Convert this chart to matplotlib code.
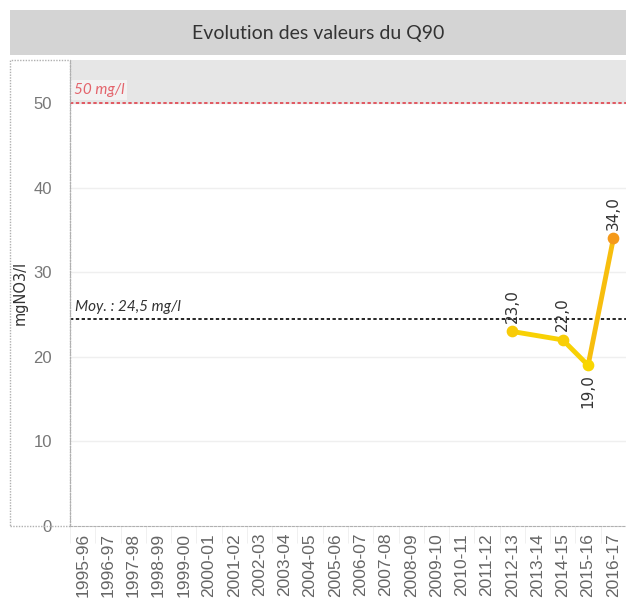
import numpy as np
import matplotlib.pyplot as plt
from matplotlib.patches import Rectangle

# data
seasons = ['1995-96', '1996-97', '1997-98', '1998-99', '1999-00', '2000-01', '2001-02',
           '2002-03', '2003-04', '2004-05', '2005-06', '2006-07', '2007-08', '2008-09',
           '2009-10', '2010-11', '2011-12', '2012-13', '2013-14', '2014-15', '2015-16', '2016-17']
q90_seasons = ['2012-13', '2014-15', '2015-16', '2016-17']
q90_values = [23.0, 22.0, 19.0, 34.0]
mean_value = 24.5
limit_value = 50

W, H = 626, 604
fig = plt.figure(figsize=(W / 100, H / 100), dpi=100)

# title bar
fig.patches.append(Rectangle((10 / W, 1 - 55 / H), 616 / W, 45 / H, transform=fig.transFigure,
                             facecolor='#d4d4d4', edgecolor='none', zorder=0))
fig.text(318 / W, 1 - 33 / H, 'Evolution des valeurs du Q90', ha='center', va='center',
         fontsize=14, color='#333333', family='Lato')

# dotted frame around the y-axis header
fig.patches.append(Rectangle((10 / W, 1 - 526 / H), 60 / W, 466 / H, transform=fig.transFigure,
                             facecolor='none', edgecolor='#b0b0b0', linestyle=(0, (1, 1)), lw=1))
fig.text(20 / W, 1 - 293 / H, 'mgNO3/l', rotation=90, ha='center', va='center',
         fontsize=10.5, color='#333333')

ax = fig.add_axes([70 / W, 1 - 526 / H, 556 / W, 466 / H])
x_pos = [seasons.index(s) for s in q90_seasons]
ax.set_xlim(-0.5, len(seasons) - 0.5)
ax.set_ylim(0, 55.1)

# gray band above the limit
ax.axhspan(limit_value, 60, color='#e6e6e6', zorder=0)
for y in [10, 20, 30, 40]:
    ax.axhline(y, color='#efefef', lw=1, zorder=0)
ax.axhline(limit_value, color='#e0404a', lw=1.2, ls=(0, (2, 1.5)), zorder=2)
ax.text(-0.35, 51.1, '50 mg/l', color='#e4646c', fontsize=11, style='italic', family='Lato',
        bbox=dict(facecolor='#f2f2f2', edgecolor='none', pad=2), zorder=3)
ax.axhline(mean_value, color='black', lw=1.2, ls=(0, (2, 1.5)), zorder=2)
ax.text(-0.3, 25.4, 'Moy. : 24,5 mg/l', color='#333333', fontsize=11, style='italic', family='Lato')

# line coloured by value
cmap = plt.matplotlib.colors.LinearSegmentedColormap.from_list('q', ['#f9d800', '#f7c20d', '#f5961b'])
for i in range(len(x_pos) - 1):
    v = (max(q90_values[i], q90_values[i + 1]) - 19) / 15
    c = cmap(0.15 if v < 0.4 else 0.55)
    ax.plot(x_pos[i:i + 2], q90_values[i:i + 2], color=c, lw=3.5, solid_capstyle='round', zorder=4)
for xp, v in zip(x_pos, q90_values):
    ax.scatter(xp, v, s=55, color=cmap((v - 19) / 15 * 0.9 + 0.05), zorder=5)
    lbl = f'{v:.1f}'.replace('.', ',')
    if v == min(q90_values):
        ax.text(xp, v - 1.0, lbl, rotation=90, ha='center', va='top', fontsize=11, color='#333333')
    else:
        ax.text(xp, v + 1.0, lbl, rotation=90, ha='center', va='bottom', fontsize=11, color='#333333')

ax.set_xticks(range(len(seasons)))
ax.set_xticklabels(seasons, rotation=90, fontsize=12.5, color='#666666', family='Liberation Sans')
ax.set_xticks(np.arange(-0.5, len(seasons), 1), minor=True)
ax.tick_params(axis='x', which='major', length=0, pad=5)
ax.tick_params(axis='x', which='minor', length=12, color='#eeeeee')
ax.set_yticks([0, 10, 20, 30, 40, 50])
ax.set_yticklabels(['0', '10', '20', '30', '40', '50'])
ax.tick_params(axis='y', length=0, labelsize=12, labelcolor='#777777', pad=13)
for lbl in ax.get_yticklabels():
    lbl.set_family('Liberation Sans')

for s in ['top', 'right']:
    ax.spines[s].set_visible(False)
ax.spines['left'].set_color('#b0b0b0')
ax.spines['left'].set_linestyle((0, (2, 1.5)))
ax.spines['bottom'].set_color('#b0b0b0')
ax.spines['bottom'].set_linestyle((0, (2, 1.5)))

fig.savefig('out.png', dpi=100)
